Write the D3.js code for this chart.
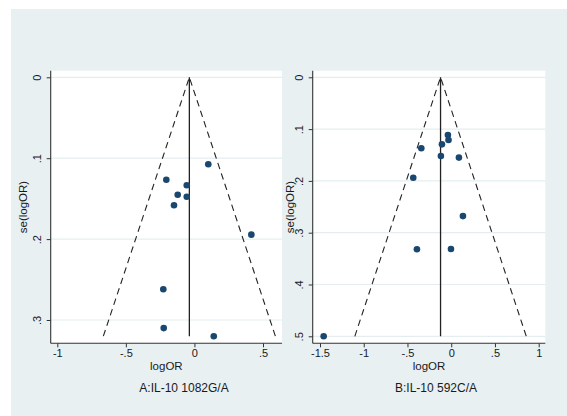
<!DOCTYPE html>
<html><head><meta charset="utf-8">
<script src="https://cdn.jsdelivr.net/npm/d3@7"></script>
<style>html,body{margin:0;padding:0;background:#fff}svg{display:block}text{font-family:"Liberation Sans",Arial,sans-serif;fill:#1a1a1a}</style>
</head><body>
<script>
// Panel A: IL-10 1082G/A
const aLogOR = [0.101, -0.205, -0.056, -0.122, -0.056, -0.149, 0.415, -0.227, -0.224, 0.141];
const aSE    = [0.1075, 0.1266, 0.1335, 0.1451, 0.1476, 0.1582, 0.1945, 0.262, 0.310, 0.320];
const aPooled = -0.037;
const aXTicks = [-1, -0.5, 0, 0.5];
const aYTicks = [0, 0.1, 0.2, 0.3];
const aTitle = "A:IL-10 1082G/A";
// Panel B: IL-10 592C/A
const bLogOR = [-0.038, -0.031, -0.106, -0.342, -0.118, 0.088, -0.434, 0.134, -0.392, -0.003, -1.458];
const bSE    = [0.1114, 0.121, 0.1294, 0.137, 0.152, 0.155, 0.194, 0.268, 0.332, 0.3315, 0.5];
const bPooled = -0.122;
const bXTicks = [-1.5, -1, -0.5, 0, 0.5, 1];
const bYTicks = [0, 0.1, 0.2, 0.3, 0.4, 0.5];
const bTitle = "B:IL-10 592C/A";
const xLabel = "logOR", yLabel = "se(logOR)";

const W = 567, H = 416;
const svg = d3.select("body").append("svg").attr("width", W).attr("height", H);
svg.append("rect").attr("x", 11).attr("y", 9).attr("width", W - 11).attr("height", H - 9).attr("fill", "#e8f0f2");

const fmt = v => v === 0 ? "0" : String(v).replace(/^(-?)0\./, "$1.");
const dotColor = "#1a476f";

function panel(cfg) {
  const {left, right, top, bottom, xDom, xRange, yDom, yRange, logOR, se, pooled, xTicks, yTicks, title, titleX, ylabX} = cfg;
  const x = d3.scaleLinear().domain(xDom).range(xRange);
  const y = d3.scaleLinear().domain(yDom).range(yRange);
  const g = svg.append("g");
  g.append("rect").attr("x", left).attr("y", top).attr("width", right - left).attr("height", bottom - top).attr("fill", "#fff");
  // gridlines
  g.selectAll("line.grid").data(yTicks).join("line")
    .attr("x1", left).attr("x2", right).attr("y1", d => y(d)).attr("y2", d => y(d))
    .attr("stroke", "#e4eef0").attr("stroke-width", 1.2);
  // axes
  const xa = g.append("g").attr("transform", `translate(0,${bottom})`)
    .call(d3.axisBottom(x).tickValues(xTicks).tickFormat(fmt).tickSize(4).tickPadding(2));
  xa.select(".domain").remove();
  xa.selectAll("text").style("font-size", "11px").attr("fill", "#1a1a1a");
  xa.selectAll("line").attr("stroke", "#333");
  g.append("line").attr("x1", left).attr("x2", right).attr("y1", bottom).attr("y2", bottom).attr("stroke", "#333").attr("stroke-width", 1.1);
  const ya = g.append("g").attr("transform", `translate(${left},0)`)
    .call(d3.axisLeft(y).tickValues(yTicks).tickFormat(fmt).tickSize(4).tickPadding(0));
  ya.select(".domain").remove();
  ya.selectAll("line").attr("stroke", "#333");
  ya.selectAll("text").style("font-size", "11px").attr("fill", "#1a1a1a")
    .attr("x", 0).attr("text-anchor", "middle")
    .attr("transform", "translate(-10,0) rotate(-90)").attr("dy", "0");
  g.append("line").attr("x1", left).attr("x2", left).attr("y1", top).attr("y2", bottom).attr("stroke", "#333").attr("stroke-width", 1.1);
  // funnel
  const seMax = d3.max(se), z = 1.96;
  const funnel = [[pooled - z * seMax, seMax], [pooled, 0], [pooled + z * seMax, seMax]];
  g.append("path").attr("d", d3.line().x(d => x(d[0])).y(d => y(d[1]))(funnel))
    .attr("fill", "none").attr("stroke", "#222").attr("stroke-width", 1.1).attr("stroke-dasharray", "6.5,4.5");
  g.append("line").attr("x1", x(pooled)).attr("x2", x(pooled)).attr("y1", y(0)).attr("y2", y(seMax))
    .attr("stroke", "#222").attr("stroke-width", 1.3);
  // dots
  g.selectAll("circle").data(logOR.map((v, i) => [v, se[i]])).join("circle")
    .attr("cx", d => x(d[0])).attr("cy", d => y(d[1])).attr("r", 3.3).attr("fill", dotColor);
  // labels
  g.append("text").attr("x", (left + right) / 2).attr("y", 370).attr("text-anchor", "middle").style("font-size", "11.5px").text(xLabel);
  g.append("text").attr("transform", `translate(${ylabX},${(top + bottom) / 2}) rotate(-90)`).attr("text-anchor", "middle").style("font-size", "11.5px").text(yLabel);
  g.append("text").attr("x", titleX).attr("y", 391.5).attr("text-anchor", "middle").style("font-size", "12px").text(title);
}

panel({left: 50.7, right: 282, top: 70.7, bottom: 343.3, xDom: [-1, 0.5], xRange: [57.3, 263], yDom: [0, 0.3], yRange: [77.3, 320],
  logOR: aLogOR, se: aSE, pooled: aPooled, xTicks: aXTicks, yTicks: aYTicks, title: aTitle, titleX: 184, ylabX: 27});
panel({left: 312.7, right: 545.3, top: 70.7, bottom: 343.3, xDom: [-1.5, 1], xRange: [320, 538.7], yDom: [0, 0.5], yRange: [77.3, 336.3],
  logOR: bLogOR, se: bSE, pooled: bPooled, xTicks: bXTicks, yTicks: bYTicks, title: bTitle, titleX: 436, ylabX: 294});
</script>
</body></html>
